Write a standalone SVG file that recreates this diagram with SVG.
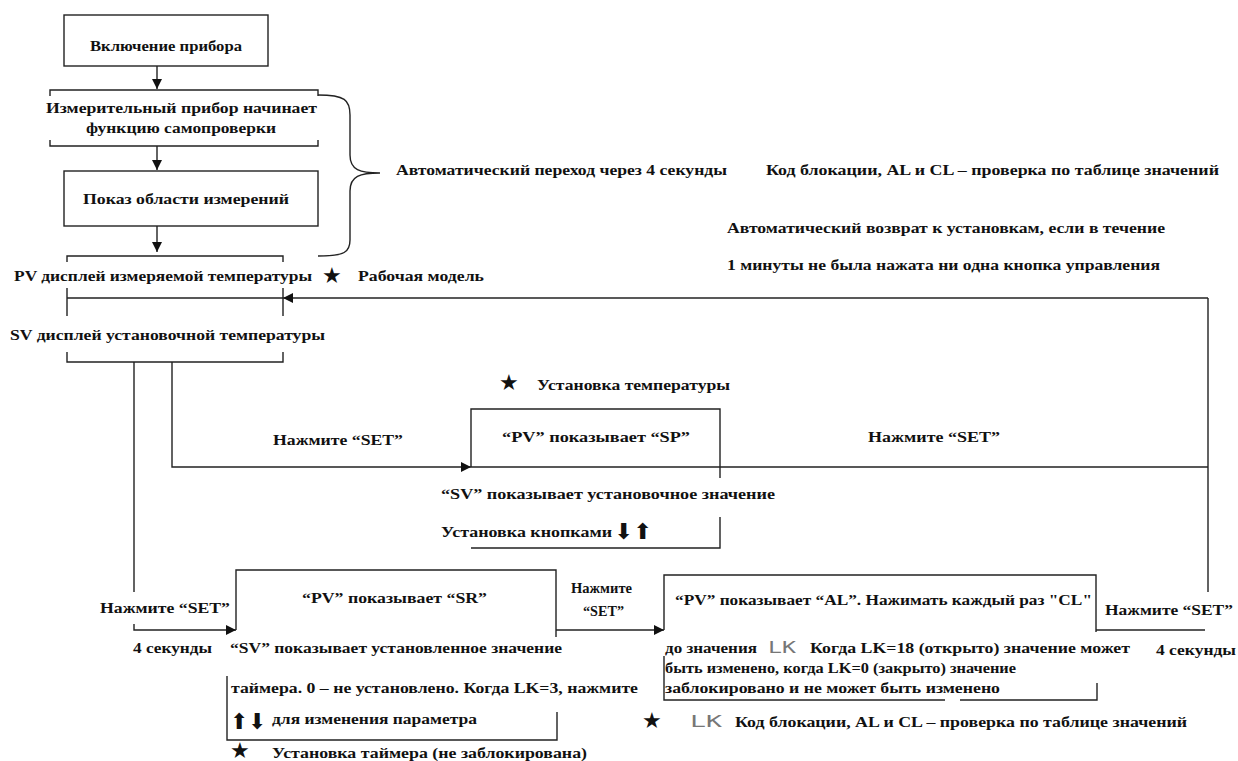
<svg xmlns="http://www.w3.org/2000/svg" width="1238" height="761" viewBox="0 0 1238 761">
<style>
.t{font-family:"Liberation Serif","DejaVu Serif",serif;font-weight:bold;font-size:15px;fill:#111}
.ln{stroke:#222;stroke-width:1.4;fill:none}
.star{font-family:"DejaVu Sans",sans-serif;font-size:22px;fill:#111}
.arr{font-family:"DejaVu Sans",sans-serif;font-size:22px;fill:#111}
.lk{font-family:"DejaVu Sans Mono",monospace;font-size:15px;fill:#777}
</style>
<defs>
<marker id="ah" viewBox="0 0 10 10" refX="10" refY="5" markerWidth="10" markerHeight="10" markerUnits="userSpaceOnUse" orient="auto"><path d="M0,0 L10,5 L0,10 Z" fill="#111"/></marker>
</defs>
<rect width="1238" height="761" fill="#fff"/>

<g id="connectors">
<path class="ln" d="M157,66 V89" marker-end="url(#ah)"/>
<path class="ln" d="M157,146 V170" marker-end="url(#ah)"/>
<path class="ln" d="M157,226 V252" marker-end="url(#ah)"/>
<path class="ln" d="M318,95 C345,95 350,100 350,115 L350,155 C350,170 360,173 380,173 C360,173 350,176 350,191 L350,240 C350,252 345,256 318,256"/>
<path class="ln" d="M1208,298 H283" marker-end="url(#ah)"/>
<path class="ln" d="M283,298 H67 M67,288 V316 M283,288 V316"/>
<path class="ln" d="M134,362 V592 M134,624 V630 H236" marker-end="url(#ah)"/>
<path class="ln" d="M172,362 V467 H471" marker-end="url(#ah)"/>
<path class="ln" d="M471,467 H1208 M1208,298 V592"/>
<path class="ln" d="M556,630 H664" marker-end="url(#ah)"/>
<path class="ln" d="M1096,630 H1205"/>
</g>

<g id="n-power">
<rect class="ln" x="64" y="15" width="204" height="51"/>
<text class="t" x="90" y="51" textLength="152" lengthAdjust="spacingAndGlyphs">Включение прибора</text>
</g>

<g id="n-selftest">
<path class="ln" d="M50,96 V90 H318 V96 M50,140 V146 H318 V140"/>
<text class="t" x="46" y="113" textLength="271" lengthAdjust="spacingAndGlyphs">Измерительный прибор начинает</text>
<text class="t" x="86" y="133" textLength="190" lengthAdjust="spacingAndGlyphs">функцию самопроверки</text>
</g>

<g id="n-range">
<rect class="ln" x="64" y="171" width="254" height="55"/>
<text class="t" x="83" y="204" textLength="206" lengthAdjust="spacingAndGlyphs">Показ области измерений</text>
</g>

<g id="n-auto">
<text class="t" x="396" y="175" textLength="331" lengthAdjust="spacingAndGlyphs">Автоматический переход через 4 секунды</text>
</g>

<g id="n-note-top">
<text class="t" x="766" y="175" textLength="453" lengthAdjust="spacingAndGlyphs">Код блокации, AL и CL – проверка по таблице значений</text>
<text class="t" x="727" y="233" textLength="438" lengthAdjust="spacingAndGlyphs">Автоматический возврат к установкам, если в течение</text>
<text class="t" x="727" y="270" textLength="433" lengthAdjust="spacingAndGlyphs">1 минуты не была нажата ни одна кнопка управления</text>
</g>

<g id="n-pvsv">
<path class="ln" d="M67,262 V256 H283 V262"/>
<text class="t" x="14" y="281" textLength="298" lengthAdjust="spacingAndGlyphs">PV дисплей измеряемой температуры</text>
<text class="star" x="322" y="283">★</text>
<text class="t" x="358" y="281" textLength="126" lengthAdjust="spacingAndGlyphs">Рабочая модель</text>
<text class="t" x="10" y="340" textLength="315" lengthAdjust="spacingAndGlyphs">SV дисплей установочной температуры</text>
<path class="ln" d="M67,352 V362 H283 V352"/>
</g>

<g id="n-sp">
<text class="t" x="273" y="445" textLength="130" lengthAdjust="spacingAndGlyphs">Нажмите “SET”</text>
<text class="star" x="499" y="390">★</text>
<text class="t" x="537" y="390" textLength="193" lengthAdjust="spacingAndGlyphs">Установка температуры</text>
<path class="ln" d="M471,467 V409 H720 V478 M720,517 V548 H471"/>
<text class="t" x="502" y="442" textLength="188" lengthAdjust="spacingAndGlyphs">“PV” показывает “SP”</text>
<text class="t" x="868" y="442" textLength="132" lengthAdjust="spacingAndGlyphs">Нажмите “SET”</text>
<text class="t" x="441" y="499" textLength="334" lengthAdjust="spacingAndGlyphs">“SV” показывает установочное значение</text>
<text class="t" x="441" y="537" textLength="171" lengthAdjust="spacingAndGlyphs">Установка кнопками</text>
<text class="arr" x="614" y="539" textLength="38" lengthAdjust="spacingAndGlyphs">⬇⬆</text>
</g>

<g id="n-sr">
<text class="t" x="100" y="613" textLength="130" lengthAdjust="spacingAndGlyphs">Нажмите “SET”</text>
<text class="t" x="133" y="653" textLength="79" lengthAdjust="spacingAndGlyphs">4 секунды</text>
<path class="ln" d="M236,630 V570 H556 V637"/>
<text class="t" x="302" y="603" textLength="185" lengthAdjust="spacingAndGlyphs">“PV” показывает “SR”</text>
<text class="t" x="230" y="653" textLength="332" lengthAdjust="spacingAndGlyphs">“SV” показывает установленное значение</text>
<text class="t" x="231" y="693" textLength="407" lengthAdjust="spacingAndGlyphs">таймера. 0 – не установлено. Когда LK=3, нажмите</text>
<text class="arr" x="230" y="729" textLength="36" lengthAdjust="spacingAndGlyphs">⬆⬇</text>
<text class="t" x="272" y="724" textLength="205" lengthAdjust="spacingAndGlyphs">для изменения параметра</text>
<path class="ln" d="M227,676 V740 H557 V712"/>
<text class="star" x="230" y="758">★</text>
<text class="t" x="272" y="758" textLength="315" lengthAdjust="spacingAndGlyphs">Установка таймера (не заблокирована)</text>
</g>

<g id="n-al">
<text class="t" x="571" y="593" textLength="61" lengthAdjust="spacingAndGlyphs">Нажмите</text>
<text class="t" x="583" y="616" textLength="41" lengthAdjust="spacingAndGlyphs">“SET”</text>
<path class="ln" d="M664,630 V575 H1096 V632"/>
<text class="t" x="675" y="605" textLength="417" lengthAdjust="spacingAndGlyphs">“PV” показывает “AL”. Нажимать каждый раз "CL"</text>
<text class="t" x="1105" y="615" textLength="128" lengthAdjust="spacingAndGlyphs">Нажмите “SET”</text>
<text class="t" x="1156" y="655" textLength="80" lengthAdjust="spacingAndGlyphs">4 секунды</text>
<text class="t" x="665" y="653" textLength="92" lengthAdjust="spacingAndGlyphs">до значения</text>
<text class="lk" x="768" y="653" textLength="28" lengthAdjust="spacingAndGlyphs">LK</text>
<text class="t" x="810" y="653" textLength="320" lengthAdjust="spacingAndGlyphs">Когда LK=18 (открыто) значение может</text>
<text class="t" x="665" y="673" textLength="351" lengthAdjust="spacingAndGlyphs">быть изменено, когда LK=0 (закрыто) значение</text>
<text class="t" x="665" y="693" textLength="335" lengthAdjust="spacingAndGlyphs">заблокировано и не может быть изменено</text>
<path class="ln" d="M664,656 V700 H945 M960,700 H1097 V683"/>
<text class="star" x="642" y="728">★</text>
<text class="lk" x="690" y="727" textLength="32" lengthAdjust="spacingAndGlyphs">LK</text>
<text class="t" x="735" y="727" textLength="452" lengthAdjust="spacingAndGlyphs">Код блокации, AL и CL – проверка по таблице значений</text>
</g>
</svg>
